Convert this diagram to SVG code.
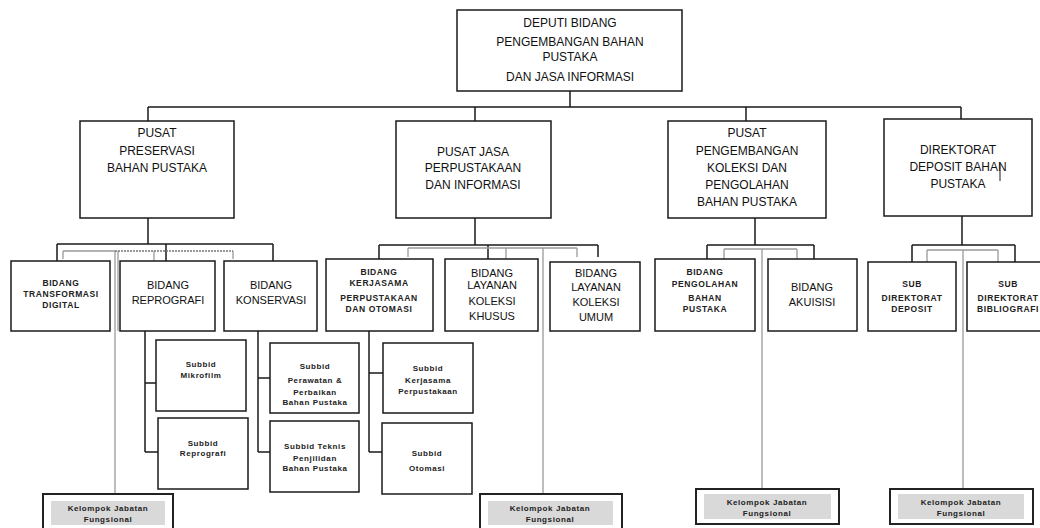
<svg xmlns="http://www.w3.org/2000/svg" width="1040" height="528" viewBox="0 0 1040 528">
<style>
  .box { fill: #fff; stroke: #1a1a1a; stroke-width: 1.5; }
  .kbox { fill: #fff; stroke: #222; stroke-width: 2; }
  .kin { fill: #d9d9d9; stroke: none; }
  .ln { fill: none; stroke: #1a1a1a; stroke-width: 1.5; }
  .gl { fill: none; stroke: #9a9a9a; stroke-width: 1.3; }
  .dl { fill: none; stroke: #777; stroke-width: 1.3; stroke-dasharray: 2 1; }
  text { font-family: "Liberation Sans", Arial, sans-serif; fill: #111; text-anchor: middle; }
  .t1 { font-size: 12px; }
  .t2 { font-size: 11px; }
  .t3 { font-size: 8.5px; letter-spacing: 0.6px; font-weight: bold; fill: #222; }
  .t4 { font-size: 8px; letter-spacing: 0.6px; font-weight: bold; fill: #222; }
</style>

<g id="connectors">
  <path class="ln" d="M570 91 V107 M148 107 H961 M148 107 V121 M475 107 V121 M746 107 V121 M961 107 V119"/>
  <path class="ln" d="M148 218 V244 M57 244 H273 M57 244 V261 M166 244 V261 M273 244 V261"/>
  <path class="gl" d="M63 251 H115 M63 251 V259 M154 251 V261 M233 251 V259 M115 251 V494 M118 251 V331"/>
  <path class="dl" d="M115 251 H233"/>
  <path class="ln" d="M145 331 V452 M145 383 H157 M145 452 H158"/>
  <path class="ln" d="M258 331 V452 M258 378 H270 M258 452 H270"/>
  <path class="ln" d="M475 218 V245 M379 245 H598 M379 245 V259 M488 245 V259 M598 245 V257"/>
  <path class="gl" d="M408 248 H577 M408 248 V257 M506 248 V259 M577 248 V257 M543 248 V494"/>
  <path class="ln" d="M369 331 V452 M369 373 H383 M369 452 H382"/>
  <path class="ln" d="M755 218 V245 M707 245 H814 M707 245 V259 M814 245 V259"/>
  <path class="gl" d="M724 249 H797 M724 249 V259 M797 249 V259 M762 249 V489"/>
  <path class="ln" d="M962 216 V245 M912 245 H1015 M912 245 V262 M1015 245 V262"/>
  <path class="gl" d="M927 250 H998 M927 250 V262 M998 250 V262 M963 250 V489"/>
</g>

<g id="deputi">
  <rect class="box" x="457" y="10" width="225" height="81"/>
  <text class="t1" x="570" y="27">DEPUTI BIDANG</text>
  <text class="t1" x="570" y="46">PENGEMBANGAN BAHAN</text>
  <text class="t1" x="570" y="61">PUSTAKA</text>
  <text class="t1" x="570" y="81">DAN JASA INFORMASI</text>
</g>

<g id="pusat-preservasi">
  <rect class="box" x="80" y="121" width="154" height="97"/>
  <text class="t1" x="157" y="137">PUSAT</text>
  <text class="t1" x="157" y="155">PRESERVASI</text>
  <text class="t1" x="157" y="172">BAHAN PUSTAKA</text>
</g>

<g id="pusat-jasa">
  <rect class="box" x="396" y="121" width="155" height="97"/>
  <text class="t1" x="473" y="156">PUSAT JASA</text>
  <text class="t1" x="473" y="172">PERPUSTAKAAN</text>
  <text class="t1" x="473" y="189">DAN INFORMASI</text>
</g>

<g id="pusat-pengembangan">
  <rect class="box" x="668" y="121" width="158" height="97"/>
  <text class="t1" x="747" y="137">PUSAT</text>
  <text class="t1" x="747" y="155">PENGEMBANGAN</text>
  <text class="t1" x="747" y="172">KOLEKSI DAN</text>
  <text class="t1" x="747" y="189">PENGOLAHAN</text>
  <text class="t1" x="747" y="206">BAHAN PUSTAKA</text>
</g>

<g id="direktorat-deposit">
  <rect class="box" x="884" y="119" width="148" height="97"/>
  <text class="t1" x="958" y="154">DIREKTORAT</text>
  <text class="t1" x="958" y="171">DEPOSIT BAHAN</text>
  <text class="t1" x="958" y="188">PUSTAKA</text>
  <path class="ln" d="M1000 163 V181" style="stroke-width:1"/>
</g>

<g id="bidang-transformasi">
  <rect class="box" x="11" y="261" width="99" height="70"/>
  <text class="t3" x="61" y="286">BIDANG</text>
  <text class="t3" x="61" y="297">TRANSFORMASI</text>
  <text class="t3" x="61" y="308">DIGITAL</text>
</g>

<g id="bidang-reprografi">
  <rect class="box" x="120" y="261" width="95" height="70"/>
  <text class="t2" x="168" y="289">BIDANG</text>
  <text class="t2" x="168" y="304">REPROGRAFI</text>
</g>

<g id="bidang-konservasi">
  <rect class="box" x="224" y="261" width="93" height="70"/>
  <text class="t2" x="271" y="289">BIDANG</text>
  <text class="t2" x="271" y="304">KONSERVASI</text>
</g>

<g id="subbid-mikrofilm">
  <rect class="box" x="156" y="340" width="90" height="71"/>
  <text class="t4" x="201" y="367">Subbid</text>
  <text class="t4" x="201" y="378">Mikrofilm</text>
</g>

<g id="subbid-reprografi">
  <rect class="box" x="158" y="418" width="90" height="71"/>
  <text class="t4" x="203" y="446">Subbid</text>
  <text class="t4" x="203" y="456">Reprografi</text>
</g>

<g id="subbid-perawatan">
  <rect class="box" x="270" y="343" width="89" height="70"/>
  <text class="t4" x="315" y="369">Subbid</text>
  <text class="t4" x="315" y="383">Perawatan &amp;</text>
  <text class="t4" x="315" y="395">Perbaikan</text>
  <text class="t4" x="315" y="405">Bahan Pustaka</text>
</g>

<g id="subbid-teknis">
  <rect class="box" x="270" y="421" width="89" height="71"/>
  <text class="t4" x="315" y="449">Subbid Teknis</text>
  <text class="t4" x="315" y="461">Penjilidan</text>
  <text class="t4" x="315" y="471">Bahan Pustaka</text>
</g>

<g id="kelompok-1">
  <rect class="kbox" x="43" y="494" width="130" height="40"/>
  <rect class="kin" x="51" y="501" width="114" height="24"/>
  <text class="t4" x="108" y="511">Kelompok Jabatan</text>
  <text class="t4" x="108" y="522">Fungsional</text>
</g>

<g id="bidang-kerjasama">
  <rect class="box" x="326" y="259" width="107" height="72"/>
  <text class="t3" x="379" y="275">BIDANG</text>
  <text class="t3" x="379" y="286">KERJASAMA</text>
  <text class="t3" x="379" y="301">PERPUSTAKAAN</text>
  <text class="t3" x="379" y="312">DAN OTOMASI</text>
</g>

<g id="bidang-khusus">
  <rect class="box" x="445" y="259" width="93" height="72"/>
  <text class="t2" x="492" y="277">BIDANG</text>
  <text class="t2" x="492" y="289">LAYANAN</text>
  <text class="t2" x="492" y="305">KOLEKSI</text>
  <text class="t2" x="492" y="320">KHUSUS</text>
</g>

<g id="bidang-umum">
  <rect class="box" x="550" y="262" width="90" height="69"/>
  <text class="t2" x="596" y="277">BIDANG</text>
  <text class="t2" x="596" y="291">LAYANAN</text>
  <text class="t2" x="596" y="306">KOLEKSI</text>
  <text class="t2" x="596" y="321">UMUM</text>
</g>

<g id="subbid-kerjasama">
  <rect class="box" x="383" y="343" width="90" height="70"/>
  <text class="t4" x="428" y="371">Subbid</text>
  <text class="t4" x="428" y="383">Kerjasama</text>
  <text class="t4" x="428" y="394">Perpustakaan</text>
</g>

<g id="subbid-otomasi">
  <rect class="box" x="382" y="423" width="90" height="71"/>
  <text class="t4" x="427" y="456">Subbid</text>
  <text class="t4" x="427" y="471">Otomasi</text>
</g>

<g id="kelompok-2">
  <rect class="kbox" x="480" y="494" width="142" height="40"/>
  <rect class="kin" x="488" y="501" width="125" height="24"/>
  <text class="t4" x="550" y="511">Kelompok Jabatan</text>
  <text class="t4" x="550" y="522">Fungsional</text>
</g>

<g id="bidang-pengolahan">
  <rect class="box" x="655" y="259" width="100" height="72"/>
  <text class="t3" x="705" y="275">BIDANG</text>
  <text class="t3" x="705" y="287">PENGOLAHAN</text>
  <text class="t3" x="705" y="301">BAHAN</text>
  <text class="t3" x="705" y="312">PUSTAKA</text>
</g>

<g id="bidang-akuisisi">
  <rect class="box" x="768" y="259" width="89" height="72"/>
  <text class="t2" x="812" y="291">BIDANG</text>
  <text class="t2" x="812" y="306">AKUISISI</text>
</g>

<g id="kelompok-3">
  <rect class="kbox" x="696" y="489" width="143" height="35"/>
  <rect class="kin" x="704" y="494" width="127" height="25"/>
  <text class="t4" x="767" y="505">Kelompok Jabatan</text>
  <text class="t4" x="767" y="516">Fungsional</text>
</g>

<g id="sub-direktorat-deposit">
  <rect class="box" x="868" y="262" width="88" height="69"/>
  <text class="t3" x="912" y="287">SUB</text>
  <text class="t3" x="912" y="301">DIREKTORAT</text>
  <text class="t3" x="912" y="312">DEPOSIT</text>
</g>

<g id="sub-direktorat-bibliografi">
  <rect class="box" x="967" y="262" width="80" height="69"/>
  <text class="t3" x="1008" y="287">SUB</text>
  <text class="t3" x="1008" y="301">DIREKTORAT</text>
  <text class="t3" x="1008" y="312">BIBLIOGRAFI</text>
</g>

<g id="kelompok-4">
  <rect class="kbox" x="890" y="489" width="143" height="35"/>
  <rect class="kin" x="898" y="494" width="126" height="25"/>
  <text class="t4" x="961" y="505">Kelompok Jabatan</text>
  <text class="t4" x="961" y="516">Fungsional</text>
</g>
</svg>
